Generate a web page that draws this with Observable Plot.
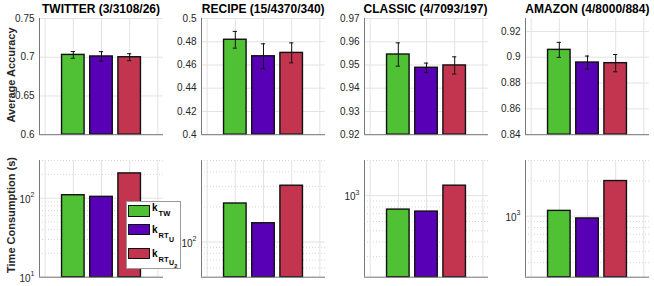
<!DOCTYPE html>
<html>
<head>
<meta charset="utf-8">
<script src="https://cdn.jsdelivr.net/npm/d3@7"></script>
<script src="https://cdn.jsdelivr.net/npm/@observablehq/plot@0.6"></script>
<style>
  body { margin: 0; background: #fff; }
  #wrap { position: relative; width: 654px; height: 286px; font-family: "Liberation Sans", Arial, Helvetica, sans-serif; color: #000; overflow: hidden; }
  #wrap svg { position: absolute; overflow: visible; }
  .title { position: absolute; font-weight: bold; font-size: 12px; line-height: 13px; white-space: nowrap; transform: translateX(-50%); }
  .ylab { position: absolute; font-weight: bold; font-size: 11px; line-height: 12px; white-space: nowrap; transform: translate(-50%, -50%) rotate(-90deg); color: #262626; }
  .legend { position: absolute; left: 126px; top: 200.5px; width: 55px; height: 68.5px; box-sizing: border-box; border: 1px solid #9a9a9a; background: #fff; }
  .sw { position: absolute; left: 128.3px; width: 21.7px; height: 11.7px; box-sizing: border-box; border: 1.4px solid #111; }
  .lab { position: absolute; left: 152px; font-weight: bold; font-size: 10px; line-height: 10px; white-space: nowrap; }
  .lab .s1 { font-size: 7.5px; position: relative; top: 5px; margin-left: 1px; }
  .lab .s2 { font-size: 7px; position: relative; top: 3.5px; margin-left: 0.5px; }
  .lab .s3 { font-size: 5.5px; position: relative; top: 2.5px; }
</style>
</head>
<body>
<div id="wrap"></div>
<script>
// ---------------- data ----------------
const datasets = ["TWITTER (3/3108/26)", "RECIPE (15/4370/340)", "CLASSIC (4/7093/197)", "AMAZON (4/8000/884)"];
const methods = ["k_TW", "k_RT_U", "k_RT_U2"];
const colors = ["#50c034", "#5800b6", "#c3344f"];

const accTwitter = [0.703, 0.701, 0.700];
const accRecipe  = [0.4817, 0.4675, 0.4704];
const accClassic = [0.9545, 0.9488, 0.9498];
const accAmazon  = [0.9057, 0.8959, 0.8954];

const errTwitter = [0.0043, 0.0062, 0.0045];
const errRecipe  = [0.0072, 0.0107, 0.0086];
const errClassic = [0.0050, 0.0020, 0.0037];
const errAmazon  = [0.0058, 0.0050, 0.0067];

const timeTwitter = [109, 104, 206];
const timeRecipe  = [214, 145, 304];
const timeClassic = [759, 730, 1217];
const timeAmazon  = [1110, 956, 2000];

const accTicks = [
  [0.6, 0.65, 0.7, 0.75],
  [0.4, 0.42, 0.44, 0.46, 0.48, 0.5],
  [0.92, 0.93, 0.94, 0.95, 0.96, 0.97],
  [0.84, 0.86, 0.88, 0.9, 0.92]
];
const accDomain = [[0.6, 0.75], [0.4, 0.5], [0.92, 0.97], [0.84, 0.93]];
const timeTicks = [[10, 100], [100], [1000], [1000]];
const timeDomain = [[10, 300], [50, 500], [200, 2000], [300, 3000]];
const xGridTicks = [0, 1, 2, 3, 4];

const accMean = [accTwitter, accRecipe, accClassic, accAmazon];
const accErr = [errTwitter, errRecipe, errClassic, errAmazon];
const timeVal = [timeTwitter, timeRecipe, timeClassic, timeAmazon];

// ---------------- layout ----------------
const panelLeft = [39, 201.2, 363.5, 525.4];
const PW = 124;
const topRow = {top: 17.5, h: 116.2};
const botRow = {top: 160, h: 116.7};
const ML = 40, MR = 8, MT = 10, MB = 8;
const XD = [-0.2, 4.2];
const gridC = "#e2e2e2";
const axisC = "#777";
const font = "Liberation Sans, Arial, Helvetica, sans-serif";

const wrap = document.getElementById("wrap");

function place(svg, left, top) {
  svg.style.left = (left - ML) + "px";
  svg.style.top = (top - MT) + "px";
  wrap.appendChild(svg);
}

function rowsFor(i, vals) {
  return methods.map((m, j) => ({x: j + 1, v: vals[i][j], e: accErr[i][j], c: colors[j], m}));
}

function accPanel(i) {
  const rows = rowsFor(i, accMean);
  const lo = accDomain[i][0];
  return Plot.plot({
    width: PW + ML + MR, height: topRow.h + MT + MB,
    marginLeft: ML, marginRight: MR, marginTop: MT, marginBottom: MB,
    style: {fontFamily: font, fontSize: "10px", color: "#262626", background: "transparent", overflow: "visible"},
    x: {domain: XD, axis: null},
    y: {domain: accDomain[i], axis: null},
    color: {type: "identity"},
    marks: [
      Plot.gridY(accTicks[i], {stroke: gridC, strokeOpacity: 1}),
      Plot.gridX(xGridTicks, {stroke: gridC, strokeOpacity: 1}),
      Plot.rect(rows, {x1: d => d.x - 0.4, x2: d => d.x + 0.4, y1: () => lo, y2: "v", fill: "c", stroke: "#111", strokeWidth: 1.4}),
      Plot.ruleX(rows, {x: "x", y1: d => d.v - d.e, y2: d => d.v + d.e, stroke: "#111", strokeWidth: 1}),
      Plot.ruleY(rows, {y: d => d.v - d.e, x1: d => d.x - 0.075, x2: d => d.x + 0.075, stroke: "#111", strokeWidth: 1}),
      Plot.ruleY(rows, {y: d => d.v + d.e, x1: d => d.x - 0.075, x2: d => d.x + 0.075, stroke: "#111", strokeWidth: 1}),
      Plot.ruleX([XD[0]], {stroke: axisC}),
      Plot.ruleY([lo], {stroke: axisC}),
      Plot.axisY(accTicks[i], {tickSize: 0, tickPadding: 5, tickFormat: d3.format("~g"), label: null, fill: "#262626"})
    ]
  });
}

function minorTicks(dom) {
  const out = [];
  const e0 = Math.floor(Math.log10(dom[0])), e1 = Math.ceil(Math.log10(dom[1]));
  for (let e = e0; e <= e1; e++) {
    for (let k = 2; k <= 9; k++) {
      const v = k * Math.pow(10, e);
      if (v >= dom[0] - 1e-9 && v <= dom[1] + 1e-9) out.push(v);
    }
  }
  return out;
}

function timePanel(i) {
  const rows = rowsFor(i, timeVal);
  const lo = timeDomain[i][0];
  return Plot.plot({
    width: PW + ML + MR, height: botRow.h + MT + MB,
    marginLeft: ML, marginRight: MR, marginTop: MT, marginBottom: MB,
    style: {fontFamily: font, fontSize: "10px", color: "#262626", background: "transparent", overflow: "visible"},
    x: {domain: XD, axis: null},
    y: {type: "log", domain: timeDomain[i], axis: null},
    color: {type: "identity"},
    marks: [
      Plot.gridY(minorTicks(timeDomain[i]), {stroke: "#d6d6d6", strokeOpacity: 1, strokeDasharray: "1,2"}),
      Plot.gridY(timeTicks[i], {stroke: gridC, strokeOpacity: 1}),
      Plot.gridX(xGridTicks, {stroke: gridC, strokeOpacity: 1}),
      Plot.rect(rows, {x1: d => d.x - 0.4, x2: d => d.x + 0.4, y1: () => lo, y2: "v", fill: "c", stroke: "#111", strokeWidth: 1.4}),
      Plot.ruleX([XD[0]], {stroke: axisC}),
      Plot.ruleY([lo], {stroke: axisC}),
      Plot.text(timeTicks[i], {x: XD[0], y: d => d, text: () => "10", textAnchor: "end", dx: -9, dy: 1.5, fill: "#262626", fontSize: 10}),
      Plot.text(timeTicks[i], {x: XD[0], y: d => d, text: d => String(Math.round(Math.log10(d))), textAnchor: "end", dx: -5, dy: -3, fill: "#262626", fontSize: 7})
    ]
  });
}

for (let i = 0; i < 4; i++) {
  place(accPanel(i), panelLeft[i], topRow.top);
  place(timePanel(i), panelLeft[i], botRow.top);
  const t = document.createElement("div");
  t.className = "title";
  t.textContent = datasets[i];
  t.style.left = (panelLeft[i] + PW / 2) + "px";
  t.style.top = "3px";
  wrap.appendChild(t);
}

const yl1 = document.createElement("div");
yl1.className = "ylab"; yl1.textContent = "Average Accuracy";
yl1.style.left = "10.5px"; yl1.style.top = "75px";
wrap.appendChild(yl1);
const yl2 = document.createElement("div");
yl2.className = "ylab"; yl2.textContent = "Time Consumption (s)";
yl2.style.left = "10.5px"; yl2.style.top = "215px";
wrap.appendChild(yl2);

// legend
const leg = document.createElement("div");
leg.className = "legend";
wrap.appendChild(leg);
const swTops = [205, 223.5, 247.5];
const labTops = [203, 225.3, 248.5];
const labHtml = [
  'k<span class="s1">TW</span>',
  'k<span class="s1">RT<span class="s2">U</span></span>',
  'k<span class="s1">RT<span class="s2">U<span class="s3">2</span></span></span>'
];
methods.forEach((m, j) => {
  const s = document.createElement("div");
  s.className = "sw"; s.style.top = swTops[j] + "px"; s.style.background = colors[j];
  wrap.appendChild(s);
  const l = document.createElement("div");
  l.className = "lab"; l.style.top = labTops[j] + "px"; l.innerHTML = labHtml[j];
  wrap.appendChild(l);
});
</script>
</body>
</html>
